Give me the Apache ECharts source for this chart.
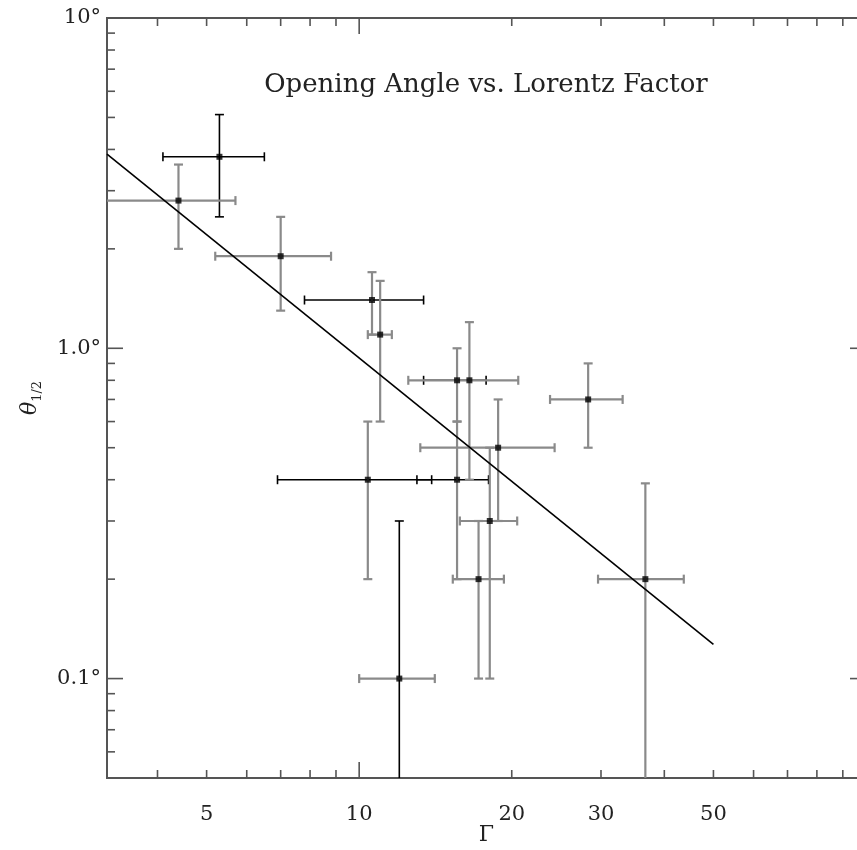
<!DOCTYPE html>
<html><head><meta charset="utf-8">
<script src="https://cdn.jsdelivr.net/npm/echarts@6/dist/echarts.min.js"></script>
<style>html,body{margin:0;padding:0;background:#fff}#c{width:857px;height:850px}</style>
</head><body><div id="c"></div>
<script>
// ---- data ----
const gamma   = [4.4, 5.3, 7.0, 10.6, 11.0, 15.6, 16.5, 28.3, 18.8, 10.4, 15.6, 18.1, 17.2, 12.0, 36.7];
const theta   = [2.8, 3.8, 1.9, 1.4, 1.1, 0.8, 0.8, 0.7, 0.5, 0.4, 0.4, 0.3, 0.2, 0.1, 0.2];
const gammaLo = [3.1, 4.1, 5.2, 7.8, 10.4, 13.4, 12.5, 23.8, 13.2, 6.9, 13.0, 15.8, 15.3, 10.0, 29.6];
const gammaHi = [5.7, 6.5, 8.8, 13.4, 11.6, 17.8, 20.6, 33.1, 24.3, 13.9, 18.0, 20.5, 19.3, 14.1, 43.7];
const thetaLo = [2.0, 2.5, 1.3, 1.1, 0.6, 0.6, 0.4, 0.5, 0.3, 0.2, 0.2, 0.1, 0.1, -0.1, 0.01];
const thetaHi = [3.6, 5.1, 2.5, 1.7, 1.6, 1.0, 1.2, 0.9, 0.7, 0.6, 0.6, 0.5, 0.3, 0.3, 0.39];
// which error bars are drawn dark (1) rather than grey (0)
const gammaErrDark = [0, 1, 0, 1, 0, 1, 0, 0, 0, 1, 1, 0, 0, 0, 0];
const thetaErrDark = [0, 1, 0, 0, 0, 0, 0, 0, 0, 0, 0, 0, 0, 1, 0];
// fitted power-law line end points
const fitGamma = [3.18, 50];
const fitTheta = [3.87, 0.127];
// axes
const xMin = 3.18, xMax = 100, yMin = 0.05, yMax = 10;
const xMinorTicks = [4, 5, 6, 7, 8, 9, 20, 30, 40, 50, 60, 70, 80, 90];
const xMajorTicks = [10, 100];
const xTickLabels = [5, 10, 20, 30, 50];
const yMinorTicks = [0.06, 0.07, 0.08, 0.09, 0.2, 0.3, 0.4, 0.5, 0.6, 0.7, 0.8, 0.9, 2, 3, 4, 5, 6, 7, 8, 9];
const yMajorTicks = [0.1, 1, 10];
const yTickValues = [0.1, 1, 10];
const yTickLabels = ['0.1°', '1.0°', '10°'];
const titleText = 'Opening Angle vs. Lorentz Factor';
const xName = 'Γ';

// ---- styling ----
const FONT = '"DejaVu Serif", serif';
const DARK = '#000', GREY = '#8a8a8a', AXIS = '#555';
const CAP = 4.5;

const chart = echarts.init(document.getElementById('c'), null, {renderer: 'canvas'});

function clampX(v){ return Math.min(Math.max(v, xMin), xMax); }
function clampY(v){ return Math.min(Math.max(v, yMin), yMax); }

function tickSeries(values, axis, len) {
  return {
    type: 'custom', coordinateSystem: 'cartesian2d', clip: false, silent: true, z: 6,
    data: values.map(v => axis === 'x' ? [v, yMin] : [xMin, v]),
    renderItem: function (params, api) {
      const st = {stroke: AXIS, lineWidth: 1.6};
      if (axis === 'x') {
        const v = api.value(0);
        const b = api.coord([v, yMin]), t = api.coord([v, yMax]);
        return {type: 'group', children: [
          {type: 'line', shape: {x1: b[0], y1: b[1], x2: b[0], y2: b[1] - len}, style: st},
          {type: 'line', shape: {x1: t[0], y1: t[1], x2: t[0], y2: t[1] + len}, style: st}
        ]};
      }
      const v = api.value(1);
      const l = api.coord([xMin, v]), r = api.coord([xMax, v]);
      return {type: 'group', children: [
        {type: 'line', shape: {x1: l[0], y1: l[1], x2: l[0] + len, y2: l[1]}, style: st},
        {type: 'line', shape: {x1: r[0], y1: r[1], x2: r[0] - len, y2: r[1]}, style: st}
      ]};
    }
  };
}

function errSeries(dark) {
  const rows = gamma.map((g, i) => [g, theta[i], gammaLo[i], gammaHi[i], thetaLo[i], thetaHi[i], gammaErrDark[i], thetaErrDark[i]]);
  return {
    type: 'custom', coordinateSystem: 'cartesian2d', clip: true, silent: true, z: dark ? 3 : 4,
    data: rows,
    renderItem: function (params, api) {
      const g = api.value(0), t = api.value(1);
      const gl = api.value(2), gh = api.value(3), tl = api.value(4), th = api.value(5);
      const xd = api.value(6), yd = api.value(7);
      const color = dark ? DARK : GREY;
      const st = {stroke: color, lineWidth: dark ? 1.6 : 2.2};
      const ch = [];
      if ((xd === 1) === dark) {
        const a = api.coord([clampX(gl), t]), b = api.coord([clampX(gh), t]);
        ch.push({type: 'line', shape: {x1: a[0], y1: a[1], x2: b[0], y2: b[1]}, style: st});
        if (gl >= xMin) ch.push({type: 'line', shape: {x1: a[0], y1: a[1] - CAP, x2: a[0], y2: a[1] + CAP}, style: st});
        if (gh <= xMax) ch.push({type: 'line', shape: {x1: b[0], y1: b[1] - CAP, x2: b[0], y2: b[1] + CAP}, style: st});
      }
      if ((yd === 1) === dark) {
        const a = api.coord([g, clampY(tl)]), b = api.coord([g, clampY(th)]);
        ch.push({type: 'line', shape: {x1: a[0], y1: a[1], x2: b[0], y2: b[1]}, style: st});
        if (tl >= yMin) ch.push({type: 'line', shape: {x1: a[0] - CAP, y1: a[1], x2: a[0] + CAP, y2: a[1]}, style: st});
        if (th <= yMax) ch.push({type: 'line', shape: {x1: b[0] - CAP, y1: b[1], x2: b[0] + CAP, y2: b[1]}, style: st});
      }
      return {type: 'group', children: ch};
    }
  };
}

const xLabelSeries = {
  type: 'custom', coordinateSystem: 'cartesian2d', clip: false, silent: true, z: 6,
  data: xTickLabels.map(v => [v, yMin]),
  renderItem: function (params, api) {
    const v = api.value(0); const p = api.coord([v, yMin]);
    return {type: 'text', x: p[0], y: p[1] + 37,
      style: {text: String(v), font: '21px ' + FONT, fill: '#222', align: 'center', verticalAlign: 'middle'}};
  }
};
const yLabelSeries = {
  type: 'custom', coordinateSystem: 'cartesian2d', clip: false, silent: true, z: 6,
  data: yTickValues.map(v => [xMin, v]),
  renderItem: function (params, api) {
    const v = api.value(1); const p = api.coord([xMin, v]);
    return {type: 'text', x: p[0] - 6, y: p[1],
      style: {text: yTickLabels[params.dataIndex], font: '21px ' + FONT, fill: '#222', align: 'right', verticalAlign: 'middle'}};
  }
};

const option = {
  animation: false,
  backgroundColor: '#fff',
  grid: {left: 107, width: 759, top: 18, height: 760, outerBoundsMode: 'none', containLabel: false,
         show: true, borderColor: AXIS, borderWidth: 2, backgroundColor: 'transparent'},
  xAxis: {
    type: 'log', logBase: 10, min: xMin, max: xMax,
    axisLine: {show: false}, axisTick: {show: false}, axisLabel: {show: false}, splitLine: {show: false},
    name: xName, nameLocation: 'middle', nameGap: 46,
    nameTextStyle: {fontFamily: FONT, fontSize: 22, color: '#222'}
  },
  yAxis: {
    type: 'log', logBase: 10, min: yMin, max: yMax,
    axisLine: {show: false}, axisTick: {show: false}, axisLabel: {show: false}, splitLine: {show: false},
    name: '{t|θ}{s|1/2}', nameLocation: 'middle', nameGap: 63, nameRotate: 90,
    nameTextStyle: {
      color: '#222',
      rich: {
        t: {fontFamily: FONT, fontStyle: 'italic', fontSize: 22, color: '#222', lineHeight: 28},
        s: {fontFamily: FONT, fontSize: 13, color: '#222', verticalAlign: 'bottom', lineHeight: 28}
      }
    }
  },
  graphic: [{
    type: 'text', x: 486, y: 85, z: 10,
    style: {text: titleText, font: '26px ' + FONT, fill: '#222', align: 'center', verticalAlign: 'middle'}
  }],
  series: [
    tickSeries(xMinorTicks, 'x', 8),
    tickSeries(xMajorTicks, 'x', 16),
    tickSeries(yMinorTicks, 'y', 8),
    tickSeries(yMajorTicks, 'y', 16),
    xLabelSeries,
    yLabelSeries,
    errSeries(true),
    errSeries(false),
    {
      type: 'line', data: fitGamma.map((g, i) => [g, fitTheta[i]]), showSymbol: false, silent: true,
      lineStyle: {color: '#000', width: 1.6}, z: 5
    },
    {
      type: 'scatter', data: gamma.map((g, i) => [g, theta[i]]), symbol: 'rect', symbolSize: 6,
      itemStyle: {color: '#000'}, z: 7, silent: true
    }
  ]
};
chart.setOption(option);
</script>
</body></html>
